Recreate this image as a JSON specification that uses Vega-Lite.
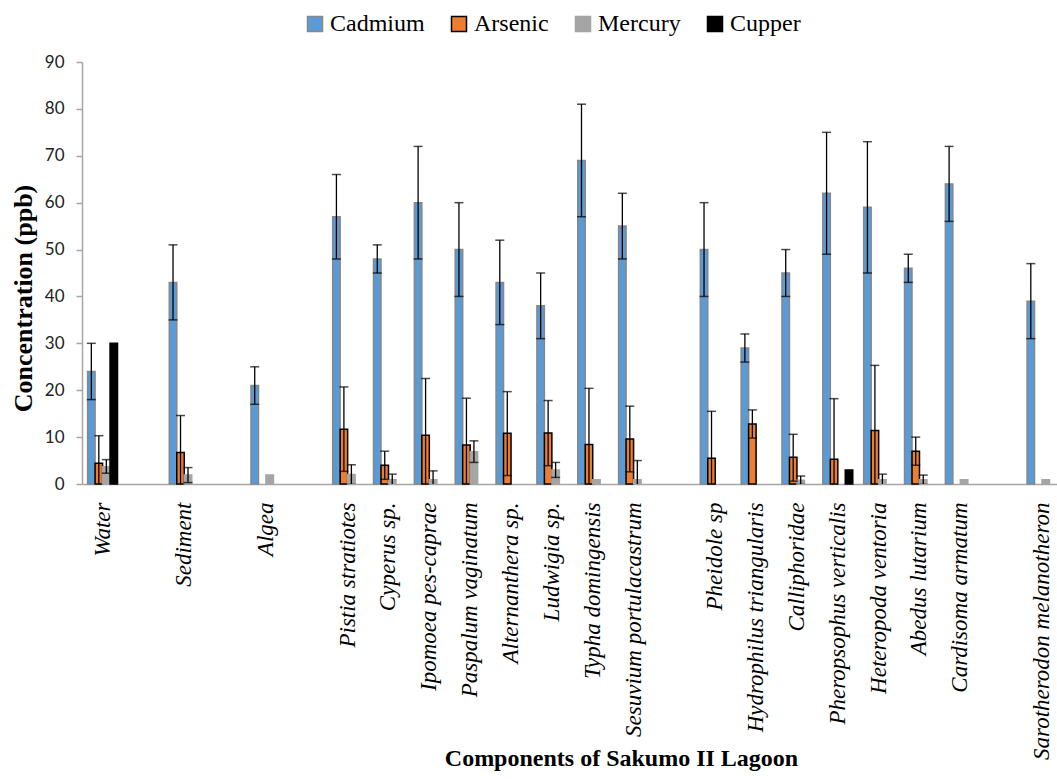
{
  "$schema": "https://vega.github.io/schema/vega-lite/v6.json",
  "autosize": {"type": "none"},
  "width": 975,
  "height": 422,
  "padding": {"left": 82, "top": 62, "right": 0, "bottom": 295},
  "background": "white",
  "config": {
    "view": {"stroke": null},
    "font": "Liberation Serif",
    "legend": {
      "labelFont": "Liberation Serif",
      "labelFontSize": 24,
      "labelColor": "#000",
      "labelOffset": 3,
      "columnPadding": 22,
      "labelLimit": 0,
      "symbolType": "square",
      "symbolSize": 225,
      "symbolStrokeWidth": 1.5,
      "padding": 0
    }
  },
  "data": {
    "values": [
      {"c": "Water", "m": "Cadmium", "v": 24, "lo": 18, "hi": 30},
      {"c": "Water", "m": "Arsenic", "v": 4.4, "lo": -1.5, "hi": 10.3},
      {"c": "Water", "m": "Mercury", "v": 3.7, "lo": 2.3, "hi": 5.2},
      {"c": "Water", "m": "Cupper", "v": 30, "lo": null, "hi": null},
      {"c": "Sediment", "m": "Cadmium", "v": 43, "lo": 35, "hi": 51},
      {"c": "Sediment", "m": "Arsenic", "v": 6.7, "lo": -1.2, "hi": 14.6},
      {"c": "Sediment", "m": "Mercury", "v": 1.9, "lo": 0.3, "hi": 3.5},
      {"c": "Algea", "m": "Cadmium", "v": 21, "lo": 17, "hi": 25},
      {"c": "Algea", "m": "Mercury", "v": 1.9, "lo": null, "hi": null},
      {"c": "Pistia stratiotes", "m": "Cadmium", "v": 57, "lo": 48, "hi": 66},
      {"c": "Pistia stratiotes", "m": "Arsenic", "v": 11.7, "lo": 2.7, "hi": 20.7},
      {"c": "Pistia stratiotes", "m": "Mercury", "v": 2.0, "lo": -0.1, "hi": 4.1},
      {"c": "Cyperus sp.", "m": "Cadmium", "v": 48, "lo": 45, "hi": 51},
      {"c": "Cyperus sp.", "m": "Arsenic", "v": 4.0, "lo": 1.0, "hi": 7.0},
      {"c": "Cyperus sp.", "m": "Mercury", "v": 0.9, "lo": -0.3, "hi": 2.1},
      {"c": "Ipomoea pes-caprae", "m": "Cadmium", "v": 60, "lo": 48, "hi": 72},
      {"c": "Ipomoea pes-caprae", "m": "Arsenic", "v": 10.4, "lo": -1.7, "hi": 22.5},
      {"c": "Ipomoea pes-caprae", "m": "Mercury", "v": 0.9, "lo": -1.0, "hi": 2.8},
      {"c": "Paspalum vaginatum", "m": "Cadmium", "v": 50, "lo": 40, "hi": 60},
      {"c": "Paspalum vaginatum", "m": "Arsenic", "v": 8.3, "lo": -1.7, "hi": 18.3},
      {"c": "Paspalum vaginatum", "m": "Mercury", "v": 6.9, "lo": 4.6, "hi": 9.2},
      {"c": "Alternanthera sp.", "m": "Cadmium", "v": 43, "lo": 34, "hi": 52},
      {"c": "Alternanthera sp.", "m": "Arsenic", "v": 10.8, "lo": 1.8, "hi": 19.7},
      {"c": "Ludwigia sp.", "m": "Cadmium", "v": 38, "lo": 31, "hi": 45},
      {"c": "Ludwigia sp.", "m": "Arsenic", "v": 10.9, "lo": 3.9, "hi": 17.8},
      {"c": "Ludwigia sp.", "m": "Mercury", "v": 3.0, "lo": 1.4, "hi": 4.6},
      {"c": "Typha domingensis", "m": "Cadmium", "v": 69, "lo": 57, "hi": 81},
      {"c": "Typha domingensis", "m": "Arsenic", "v": 8.4, "lo": -3.6, "hi": 20.4},
      {"c": "Typha domingensis", "m": "Mercury", "v": 0.9, "lo": null, "hi": null},
      {"c": "Sesuvium portulacastrum", "m": "Cadmium", "v": 55, "lo": 48, "hi": 62},
      {"c": "Sesuvium portulacastrum", "m": "Arsenic", "v": 9.6, "lo": 2.6, "hi": 16.6},
      {"c": "Sesuvium portulacastrum", "m": "Mercury", "v": 0.9, "lo": -3.2, "hi": 5.0},
      {"c": "Pheidole sp", "m": "Cadmium", "v": 50, "lo": 40, "hi": 60},
      {"c": "Pheidole sp", "m": "Arsenic", "v": 5.5, "lo": -4.5, "hi": 15.5},
      {"c": "Hydrophilus triangularis", "m": "Cadmium", "v": 29, "lo": 26, "hi": 32},
      {"c": "Hydrophilus triangularis", "m": "Arsenic", "v": 12.8, "lo": 9.8, "hi": 15.8},
      {"c": "Calliphoridae", "m": "Cadmium", "v": 45, "lo": 40, "hi": 50},
      {"c": "Calliphoridae", "m": "Arsenic", "v": 5.7, "lo": 0.6, "hi": 10.6},
      {"c": "Calliphoridae", "m": "Mercury", "v": 0.8, "lo": -0.1, "hi": 1.7},
      {"c": "Pheropsophus verticalis", "m": "Cadmium", "v": 62, "lo": 49, "hi": 75},
      {"c": "Pheropsophus verticalis", "m": "Arsenic", "v": 5.3, "lo": -7.6, "hi": 18.2},
      {"c": "Pheropsophus verticalis", "m": "Cupper", "v": 3.0, "lo": null, "hi": null},
      {"c": "Heteropoda ventoria", "m": "Cadmium", "v": 59, "lo": 45, "hi": 73},
      {"c": "Heteropoda ventoria", "m": "Arsenic", "v": 11.4, "lo": -2.5, "hi": 25.3},
      {"c": "Heteropoda ventoria", "m": "Mercury", "v": 0.9, "lo": -0.3, "hi": 2.1},
      {"c": "Abedus lutarium", "m": "Cadmium", "v": 46, "lo": 43, "hi": 49},
      {"c": "Abedus lutarium", "m": "Arsenic", "v": 7.0, "lo": 4.0, "hi": 10.0},
      {"c": "Abedus lutarium", "m": "Mercury", "v": 0.9, "lo": -0.1, "hi": 1.9},
      {"c": "Cardisoma armatum", "m": "Cadmium", "v": 64, "lo": 56, "hi": 72},
      {"c": "Cardisoma armatum", "m": "Mercury", "v": 0.9, "lo": null, "hi": null},
      {"c": "Sarotherodon melanotheron", "m": "Cadmium", "v": 39, "lo": 31, "hi": 47},
      {"c": "Sarotherodon melanotheron", "m": "Mercury", "v": 0.9, "lo": null, "hi": null}
    ]
  },
  "encoding": {
    "x": {
      "field": "c",
      "type": "nominal",
      "scale": {
        "domain": ["Water", " ", "Sediment", "  ", "Algea", "   ", "Pistia stratiotes", "Cyperus sp.", "Ipomoea pes-caprae", "Paspalum vaginatum", "Alternanthera sp.", "Ludwigia sp.", "Typha domingensis", "Sesuvium portulacastrum", "    ", "Pheidole sp", "Hydrophilus triangularis", "Calliphoridae", "Pheropsophus verticalis", "Heteropoda ventoria", "Abedus lutarium", "Cardisoma armatum", "     ", "Sarotherodon melanotheron"],
        "paddingInner": 0.267,
        "paddingOuter": 0.0685,
        "align": 1
      },
      "axis": {
        "title": "Components of Sakumo II Lagoon",
        "titleFont": "Liberation Serif",
        "titleFontWeight": "bold",
        "titleFontSize": 24,
        "titleColor": "#000",
        "titleX": 539,
        "titleY": 281,
        "titleAlign": "center",
        "titleBaseline": "alphabetic",
        "labelAngle": 270,
        "labelFont": "Liberation Serif",
        "labelFontStyle": "italic",
        "labelFontSize": 23,
        "labelColor": "#000",
        "labelPadding": 18,
        "labelOverlap": false,
        "labelLimit": 0,
        "ticks": false,
        "domainColor": "#a6a6a6",
        "domainWidth": 1.5,
        "grid": false
      }
    },
    "xOffset": {
      "field": "m",
      "type": "nominal",
      "scale": {"domain": ["Cadmium", "Arsenic", "Mercury", "Cupper"], "paddingInner": 0, "paddingOuter": 0}
    }
  },
  "layer": [
    {
      "mark": {"type": "bar", "strokeWidth": 1.5},
      "encoding": {
        "y": {
          "field": "v",
          "type": "quantitative",
          "scale": {"domain": [0, 90], "nice": false},
          "axis": {
            "values": [0, 10, 20, 30, 40, 50, 60, 70, 80, 90],
            "title": "Concentration (ppb)",
            "titleFont": "Liberation Serif",
            "titleFontWeight": "bold",
            "titleFontSize": 26,
            "titleColor": "#000",
            "titleX": -59,
            "titleY": 236,
            "titleAlign": "center",
            "titleBaseline": "middle",
            "titleAngle": 270,
            "labelFont": "Lato",
            "labelFontSize": 17,
            "labelColor": "#222",
            "labelPadding": 12,
            "tickSize": 6,
            "tickColor": "#a6a6a6",
            "tickWidth": 1.5,
            "domainColor": "#a6a6a6",
            "domainWidth": 1.5,
            "grid": false
          }
        },
        "fill": {
          "field": "m",
          "type": "nominal",
          "scale": {"domain": ["Cadmium", "Arsenic", "Mercury", "Cupper"], "range": ["#5b9bd5", "#ed7d31", "#a5a5a5", "#000000"]},
          "legend": {
            "title": null,
            "orient": "none",
            "direction": "horizontal",
            "legendX": 221,
            "legendY": -50
          }
        },
        "stroke": {
          "field": "m",
          "type": "nominal",
          "scale": {"domain": ["Cadmium", "Arsenic", "Mercury", "Cupper"], "range": ["#878787", "#000000", "#a5a5a5", "#000000"]},
          "legend": {
            "title": null,
            "orient": "none",
            "direction": "horizontal",
            "legendX": 221,
            "legendY": -50
          }
        }
      }
    },
    {
      "mark": {"type": "rule", "color": "#000", "strokeWidth": 1.3, "clip": true},
      "encoding": {
        "y": {"field": "lo", "type": "quantitative"},
        "y2": {"field": "hi"}
      }
    },
    {
      "mark": {"type": "tick", "color": "#000", "thickness": 1.5, "size": 9, "clip": true, "orient": "horizontal"},
      "encoding": {
        "y": {"field": "lo", "type": "quantitative"}
      }
    },
    {
      "mark": {"type": "tick", "color": "#000", "thickness": 1.5, "size": 9, "clip": true, "orient": "horizontal"},
      "encoding": {
        "y": {"field": "hi", "type": "quantitative"}
      }
    }
  ]
}
